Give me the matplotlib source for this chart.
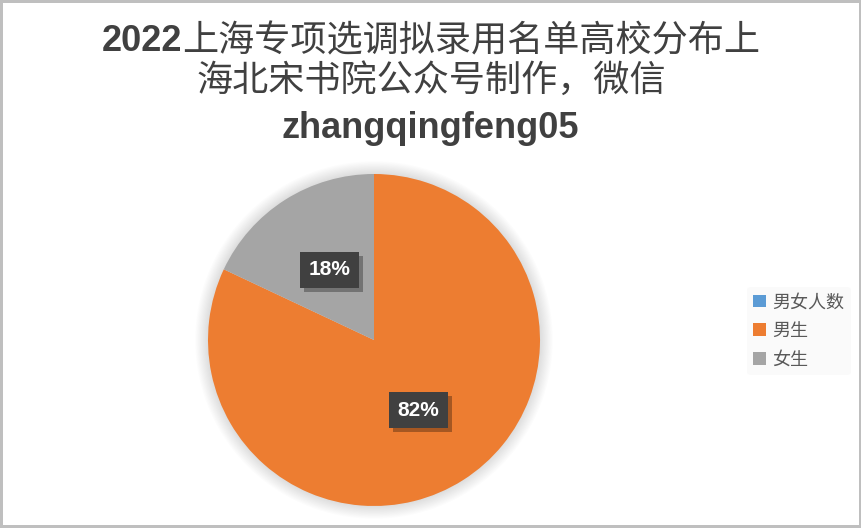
import matplotlib
matplotlib.use("Agg")
import matplotlib.pyplot as plt
import matplotlib.patheffects as pe
from matplotlib.patches import Patch, Circle

plt.rcParams['font.family'] = ['Noto Sans CJK SC', 'DejaVu Sans']

# data
categories = ["男女人数", "男生", "女生"]
shares = [0, 82, 18]
colors = ["#5B9BD5", "#ED7D31", "#A5A5A5"]
title_year = "2022"
title_line1 = "上海专项选调拟录用名单高校分布上"
title_line2 = "海北宋书院公众号制作，微信"
title_line3 = "zhangqingfeng05"

W, H = 862, 528
fig = plt.figure(figsize=(W / 100, H / 100), dpi=100)
fig.patch.set_facecolor("white")
fig.patch.set_edgecolor("#bfbfbf")
fig.patch.set_linewidth(3)

# pie axes: centre (374, 340) px, radius 166 px
cx, cy, r = 374, 340, 166
ax = fig.add_axes([(cx - r) / W, 1 - (cy + r) / H, 2 * r / W, 2 * r / H])

# soft shadow around the pie
for i in range(12):
    ax.add_patch(Circle((0.0, 0.0), 1.0 + 0.007 * i, color="black",
                        alpha=0.012, lw=0, zorder=0, clip_on=False))

wedges, texts, autotexts = ax.pie(
    shares, colors=colors, startangle=90, counterclock=False, radius=1,
    autopct=lambda p: f"{p:.0f}%" if p > 0 else "", pctdistance=0.5,
    wedgeprops=dict(linewidth=0), textprops=dict(color="white"))
ax.set_xlim(-1, 1)
ax.set_ylim(-1, 1)
ax.set_aspect("equal")
ax.axis("off")

for t in autotexts:
    if not t.get_text():
        continue
    t.set_fontfamily(["Liberation Sans", "DejaVu Sans"])
    t.set_fontweight("bold")
    t.set_fontsize(15)
    t.set_bbox(dict(boxstyle="square,pad=0.4", fc="#404040", ec="none"))
    t.get_bbox_patch().set_path_effects(
        [pe.withSimplePatchShadow(offset=(3, -3), shadow_rgbFace="black", alpha=0.3)])

# legend
handles = [Patch(facecolor=c, edgecolor="none") for c in colors]
leg = fig.legend(handles, categories, loc="center left",
                 bbox_to_anchor=(738 / W, 1 - 331 / H),
                 frameon=True, facecolor="#f9f9f9", edgecolor="none",
                 fontsize=13, handlelength=0.7, handleheight=0.7,
                 handletextpad=0.35, labelspacing=0.6, borderpad=0.35)
for t in leg.get_texts():
    t.set_color("#595959")

# title (three lines, first line mixes bold Latin digits with CJK text)
tcol = "#404040"
renderer = fig.canvas.get_renderer()
t_year = fig.text(0, 1 - 51 / H, title_year, family=["Liberation Sans"],
                  fontweight="bold", fontsize=26, color=tcol, va="baseline")
t_cn = fig.text(0, 1 - 51 / H, title_line1, fontsize=26, color=tcol, va="baseline")
w1 = t_year.get_window_extent(renderer).width
w2 = t_cn.get_window_extent(renderer).width
left = 431 - (w1 + w2) / 2
t_year.set_x(left / W)
t_cn.set_x((left + w1) / W)

fig.text(431 / W, 1 - 91 / H, title_line2, fontsize=26, color=tcol,
         ha="center", va="baseline")
fig.text(430 / W, 1 - 138 / H, title_line3, family=["Liberation Sans"],
         fontweight="bold", fontsize=26, color=tcol, ha="center", va="baseline")

fig.savefig("out.png", dpi=100, facecolor=fig.get_facecolor(),
            edgecolor=fig.get_edgecolor())
